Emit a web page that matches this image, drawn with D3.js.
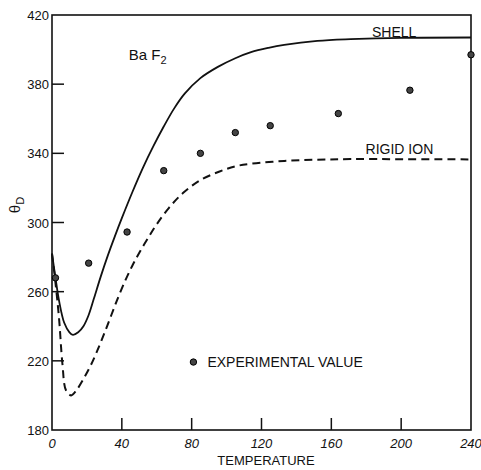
<!DOCTYPE html>
<html>
<head>
<meta charset="utf-8">
<script src="https://cdn.jsdelivr.net/npm/d3@7"></script>
<style>
body { margin: 0; background: #fff; }
text { font-family: "Liberation Sans", Arial, sans-serif; fill: #111; }
</style>
</head>
<body>
<svg id="chart" width="481" height="470"></svg>
<script>
// axis ticks
var xTicks = [0, 40, 80, 120, 160, 200, 240];
var yTicks = [180, 220, 260, 300, 340, 380, 420];

// shell model curve (solid)
var shellT     = [0, 2, 4, 7, 10, 12, 15, 18, 21, 24, 28, 32, 36, 40, 46, 52, 58, 64, 70, 76, 85, 95, 105, 114, 124, 133, 152, 171, 200, 240];
var shellTheta = [282, 268, 255, 242, 236.5, 235, 236.5, 240, 246.5, 256, 269, 281, 292, 302.5, 317.5, 331.5, 344, 355.5, 366, 374.5, 383.5, 390, 395, 398.5, 401, 402.7, 405, 406, 406.8, 407];

// rigid ion curve (dashed)
var rigidT     = [0, 2, 4, 6, 8, 11, 14, 18, 22, 26, 30, 34, 38, 42, 46, 50, 55, 60, 67, 75, 85, 96, 105, 114, 133, 152, 171, 200, 240];
var rigidTheta = [282, 265, 245, 218, 203, 200, 203, 209.5, 217, 226, 236, 246.5, 257, 266.5, 275, 282.5, 291, 299, 308.5, 317, 324.5, 329.5, 332.5, 334, 335.6, 336.3, 336.7, 336.6, 336.5];

// experimental values
var expT     = [2, 21, 43, 64, 85, 105, 125, 164, 205, 240];
var expTheta = [268, 276.5, 294.5, 330, 340, 352, 356, 363, 376.5, 397];

var svg = d3.select('#chart');
var x = d3.scaleLinear().domain([0, 240]).range([52, 471]);
var y = d3.scaleLinear().domain([180, 420]).range([430, 15]);

// frame
svg.append('rect')
  .attr('x', x(0)).attr('y', y(420))
  .attr('width', x(240) - x(0)).attr('height', y(180) - y(420))
  .attr('fill', 'none').attr('stroke', '#111').attr('stroke-width', 1.6);

// ticks
svg.selectAll('line.xt').data(xTicks.slice(1, -1)).enter().append('line')
  .attr('class', 'xt')
  .attr('x1', function(d){ return x(d); }).attr('x2', function(d){ return x(d); })
  .attr('y1', y(180)).attr('y2', y(180) - 12)
  .attr('stroke', '#111').attr('stroke-width', 1.5);
svg.selectAll('line.yt').data(yTicks.slice(1, -1)).enter().append('line')
  .attr('class', 'yt')
  .attr('x1', x(0)).attr('x2', x(0) + 12)
  .attr('y1', function(d){ return y(d); }).attr('y2', function(d){ return y(d); })
  .attr('stroke', '#111').attr('stroke-width', 1.5);

// tick labels
svg.selectAll('text.xl').data(xTicks).enter().append('text')
  .attr('class', 'xl')
  .attr('x', function(d){ return x(d); }).attr('y', y(180) + 18)
  .attr('text-anchor', 'middle').attr('font-size', 13).attr('font-style', 'italic')
  .text(function(d){ return d; });
svg.selectAll('text.yl').data(yTicks).enter().append('text')
  .attr('class', 'yl')
  .attr('x', x(0) - 3).attr('y', function(d){ return y(d) + 5; })
  .attr('text-anchor', 'end').attr('font-size', 13)
  .text(function(d){ return d; });

// axis titles
svg.append('text')
  .attr('x', 266).attr('y', 465)
  .attr('text-anchor', 'middle').attr('font-size', 13)
  .text('TEMPERATURE');
var yt = svg.append('text')
  .attr('transform', 'translate(20,205) rotate(-90)')
  .attr('text-anchor', 'middle').attr('font-size', 15);
yt.append('tspan').text('θ');
yt.append('tspan').attr('font-size', 11).attr('dy', 4).text('D');

// curves
var line = d3.line()
  .x(function(d){ return x(d[0]); })
  .y(function(d){ return y(d[1]); })
  .curve(d3.curveCatmullRom.alpha(0.5));

svg.append('path')
  .attr('d', line(d3.zip(shellT, shellTheta)))
  .attr('fill', 'none').attr('stroke', '#111').attr('stroke-width', 1.8);
svg.append('path')
  .attr('d', line(d3.zip(rigidT, rigidTheta)))
  .attr('fill', 'none').attr('stroke', '#111').attr('stroke-width', 2)
  .attr('stroke-dasharray', '8,5');

// experimental points
svg.selectAll('circle.exp').data(d3.zip(expT, expTheta)).enter().append('circle')
  .attr('class', 'exp')
  .attr('cx', function(d){ return x(d[0]); })
  .attr('cy', function(d){ return y(d[1]); })
  .attr('r', 3.2)
  .attr('fill', '#444').attr('stroke', '#000').attr('stroke-width', 1);

// labels
svg.append('text').attr('x', x(196)).attr('y', y(410) + 5)
  .attr('text-anchor', 'middle').attr('font-size', 14).text('SHELL');
svg.append('text').attr('x', x(199)).attr('y', y(342.5) + 5)
  .attr('text-anchor', 'middle').attr('font-size', 14).text('RIGID ION');
var bf = svg.append('text').attr('x', x(44)).attr('y', y(394)).attr('font-size', 15);
bf.append('tspan').text('Ba F');
bf.append('tspan').attr('font-size', 11).attr('dy', 4).text('2');

// legend
svg.append('circle').attr('cx', x(81)).attr('cy', y(219.3)).attr('r', 3.2)
  .attr('fill', '#444').attr('stroke', '#000').attr('stroke-width', 1);
svg.append('text').attr('x', x(81) + 14).attr('y', y(219.3) + 5)
  .attr('font-size', 14).text('EXPERIMENTAL VALUE');
</script>
</body>
</html>
